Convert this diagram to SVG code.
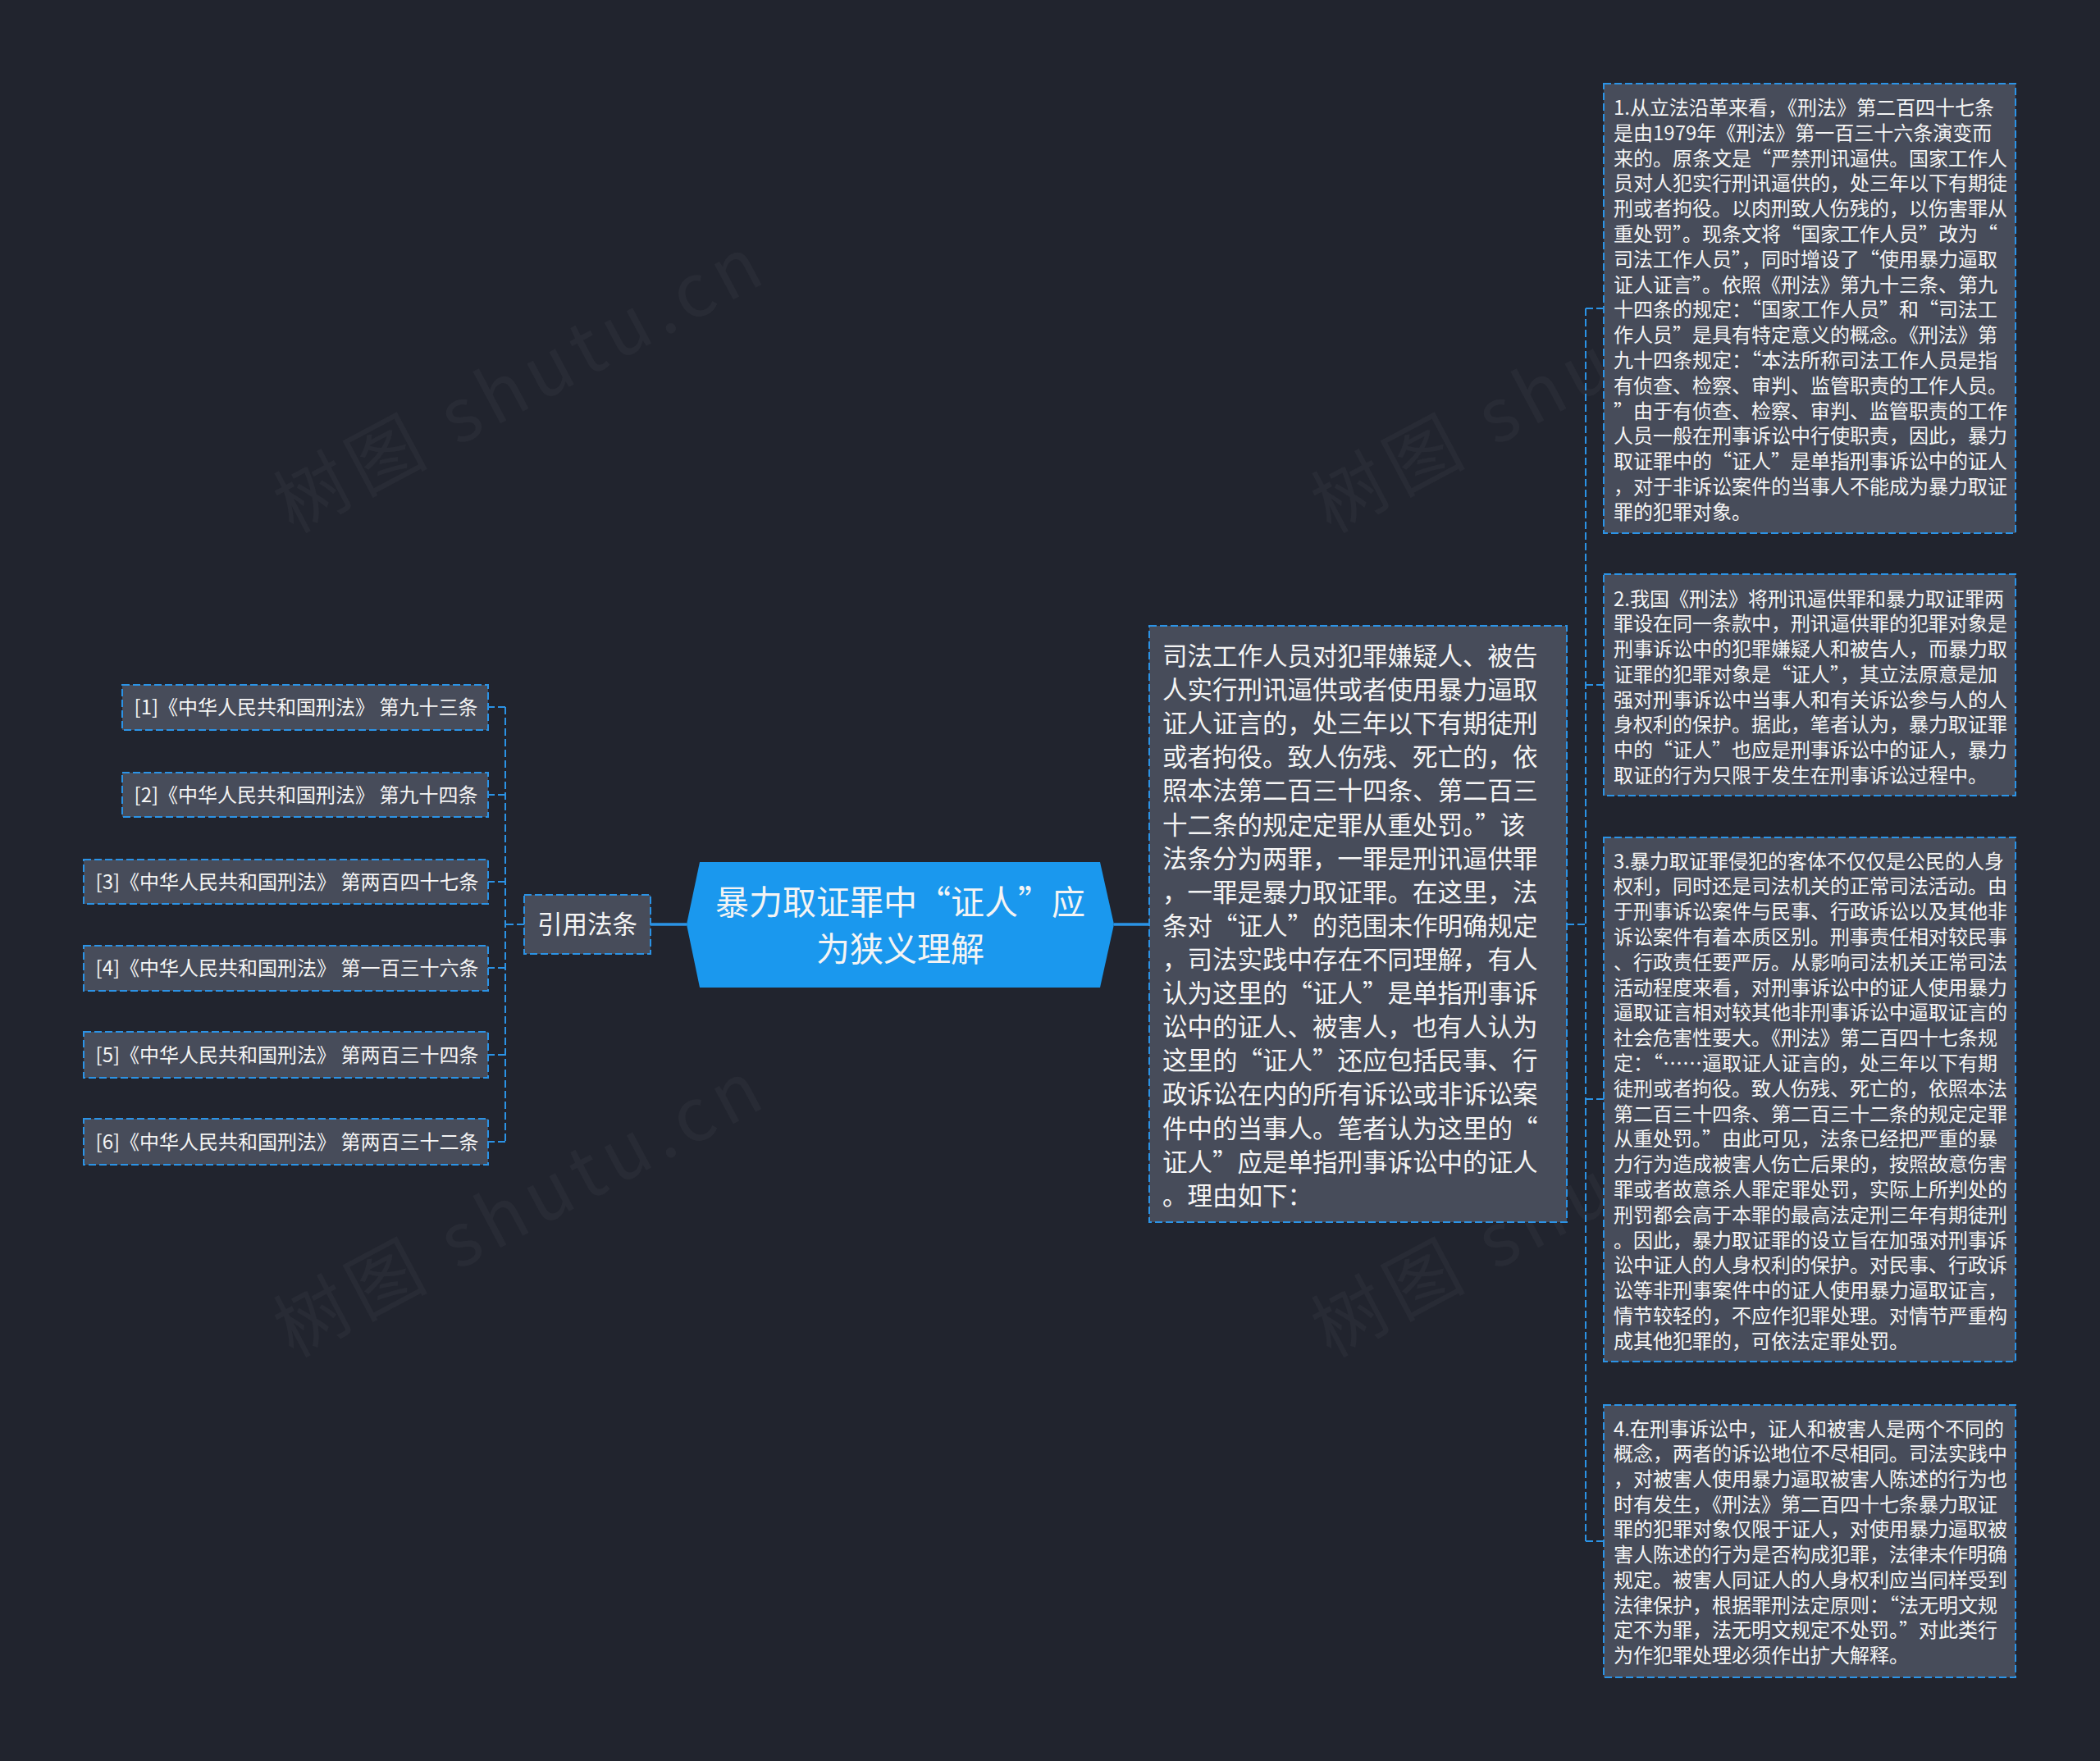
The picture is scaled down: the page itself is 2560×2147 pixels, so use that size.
<svg xmlns="http://www.w3.org/2000/svg" width="2560" height="2147" viewBox="0 0 2560 2147">
<style>
.bg{fill:#21242e}
.box{fill:#474c5a;stroke:#2b93e6;stroke-width:2;stroke-dasharray:9 4}
.main{fill:#1a98ee}
.t{fill:#f4f4f4;font-family:"Noto Sans CJK SC","Noto Sans",sans-serif}
.s24{font-size:24px}
.s30{font-size:30.5px}
.dash{fill:none;stroke:#2b93e6;stroke-width:2;stroke-dasharray:9 4}
.solid{fill:none;stroke:#2b93e6;stroke-width:3.5}
.wm{fill:#ffffff;fill-opacity:0.035;font-family:"Noto Sans CJK SC",sans-serif;font-size:90px;letter-spacing:9px}
</style>
<rect class="bg" x="0" y="0" width="2560" height="2147"/>
<g id="watermarks">
<text class="wm" x="650" y="495" text-anchor="middle" transform="rotate(-28 650 495)">树图 shutu.cn</text>
<text class="wm" x="650" y="1500" text-anchor="middle" transform="rotate(-28 650 1500)">树图 shutu.cn</text>
<text class="wm" x="1915" y="495" text-anchor="middle" transform="rotate(-28 1915 495)">树图 shutu.cn</text>
<text class="wm" x="1915" y="1500" text-anchor="middle" transform="rotate(-28 1915 1500)">树图 shutu.cn</text>
</g>
<g id="connectors">
<path class="solid" d="M837,1127 H793"/>
<path class="dash" d="M639,1127 H616 M616,862 V1392 M616,862 H595 M616,969 H595 M616,1075 H595 M616,1180 H595 M616,1286 H595 M616,1392 H595"/>
<path class="solid" d="M1358,1127 H1401"/>
<path class="dash" d="M1910,1127 H1933 M1933,376 V1879 M1933,376 H1955 M1933,835 H1955 M1933,1340 H1955 M1933,1879 H1955"/>
</g>
<g id="root">
<polygon class="main" points="837,1127 853,1051 1341,1051 1358,1127 1341,1204 853,1204"/>
<text class="t" font-size="41" text-anchor="middle" x="1097.5" y="1115">暴力取证罪中“证人”应</text>
<text class="t" font-size="41" text-anchor="middle" x="1097.5" y="1172">为狭义理解</text>
</g>
<g id="cite">
<rect class="box" x="639" y="1091" width="154" height="72"/>
<text class="t s30" x="716" y="1138" text-anchor="middle" font-size="30">引用法条</text>
</g>
<g id="law1">
<rect class="box" x="149" y="835" width="446" height="55"/>
<text class="t s24" x="373" y="871" text-anchor="middle">[1]《中华人民共和国刑法》 第九十三条</text>
</g>
<g id="law2">
<rect class="box" x="149" y="942" width="446" height="54"/>
<text class="t s24" x="373" y="978" text-anchor="middle">[2]《中华人民共和国刑法》 第九十四条</text>
</g>
<g id="law3">
<rect class="box" x="102" y="1048" width="493" height="54"/>
<text class="t s24" x="350" y="1084" text-anchor="middle">[3]《中华人民共和国刑法》 第两百四十七条</text>
</g>
<g id="law4">
<rect class="box" x="102" y="1153" width="493" height="55"/>
<text class="t s24" x="350" y="1189" text-anchor="middle">[4]《中华人民共和国刑法》 第一百三十六条</text>
</g>
<g id="law5">
<rect class="box" x="102" y="1258" width="493" height="56"/>
<text class="t s24" x="350" y="1295" text-anchor="middle">[5]《中华人民共和国刑法》 第两百三十四条</text>
</g>
<g id="law6">
<rect class="box" x="102" y="1364" width="493" height="56"/>
<text class="t s24" x="350" y="1401" text-anchor="middle">[6]《中华人民共和国刑法》 第两百三十二条</text>
</g>
<g id="summary">
<rect class="box" x="1401" y="763" width="509" height="727"/>
<text class="t s30">
<tspan x="1417" y="811">司法工作人员对犯罪嫌疑人、被告</tspan>
<tspan x="1417" y="852">人实行刑讯逼供或者使用暴力逼取</tspan>
<tspan x="1417" y="893">证人证言的，处三年以下有期徒刑</tspan>
<tspan x="1417" y="934">或者拘役。致人伤残、死亡的，依</tspan>
<tspan x="1417" y="975">照本法第二百三十四条、第二百三</tspan>
<tspan x="1417" y="1017">十二条的规定定罪从重处罚。”该</tspan>
<tspan x="1417" y="1058">法条分为两罪，一罪是刑讯逼供罪</tspan>
<tspan x="1417" y="1099">，一罪是暴力取证罪。在这里，法</tspan>
<tspan x="1417" y="1140">条对“证人”的范围未作明确规定</tspan>
<tspan x="1417" y="1181">，司法实践中存在不同理解，有人</tspan>
<tspan x="1417" y="1222">认为这里的“证人”是单指刑事诉</tspan>
<tspan x="1417" y="1263">讼中的证人、被害人，也有人认为</tspan>
<tspan x="1417" y="1304">这里的“证人”还应包括民事、行</tspan>
<tspan x="1417" y="1345">政诉讼在内的所有诉讼或非诉讼案</tspan>
<tspan x="1417" y="1387">件中的当事人。笔者认为这里的“</tspan>
<tspan x="1417" y="1428">证人”应是单指刑事诉讼中的证人</tspan>
<tspan x="1417" y="1469">。理由如下：</tspan>
</text>
</g>
<g id="reason1">
<rect class="box" x="1955" y="102" width="502" height="548"/>
<text class="t s24">
<tspan x="1967" y="140">1.从立法沿革来看，《刑法》第二百四十七条</tspan>
<tspan x="1967" y="171">是由1979年《刑法》第一百三十六条演变而</tspan>
<tspan x="1967" y="202">来的。原条文是“严禁刑讯逼供。国家工作人</tspan>
<tspan x="1967" y="232">员对人犯实行刑讯逼供的，处三年以下有期徒</tspan>
<tspan x="1967" y="263">刑或者拘役。以肉刑致人伤残的，以伤害罪从</tspan>
<tspan x="1967" y="294">重处罚”。现条文将“国家工作人员”改为“</tspan>
<tspan x="1967" y="325">司法工作人员”，同时增设了“使用暴力逼取</tspan>
<tspan x="1967" y="356">证人证言”。依照《刑法》第九十三条、第九</tspan>
<tspan x="1967" y="386">十四条的规定：“国家工作人员”和“司法工</tspan>
<tspan x="1967" y="417">作人员”是具有特定意义的概念。《刑法》第</tspan>
<tspan x="1967" y="448">九十四条规定：“本法所称司法工作人员是指</tspan>
<tspan x="1967" y="479">有侦查、检察、审判、监管职责的工作人员。</tspan>
<tspan x="1967" y="510">”由于有侦查、检察、审判、监管职责的工作</tspan>
<tspan x="1967" y="540">人员一般在刑事诉讼中行使职责，因此，暴力</tspan>
<tspan x="1967" y="571">取证罪中的“证人”是单指刑事诉讼中的证人</tspan>
<tspan x="1967" y="602">，对于非诉讼案件的当事人不能成为暴力取证</tspan>
<tspan x="1967" y="633">罪的犯罪对象。</tspan>
</text>
</g>
<g id="reason2">
<rect class="box" x="1955" y="700" width="502" height="270"/>
<text class="t s24">
<tspan x="1967" y="739">2.我国《刑法》将刑讯逼供罪和暴力取证罪两</tspan>
<tspan x="1967" y="769">罪设在同一条款中，刑讯逼供罪的犯罪对象是</tspan>
<tspan x="1967" y="800">刑事诉讼中的犯罪嫌疑人和被告人，而暴力取</tspan>
<tspan x="1967" y="831">证罪的犯罪对象是“证人”，其立法原意是加</tspan>
<tspan x="1967" y="862">强对刑事诉讼中当事人和有关诉讼参与人的人</tspan>
<tspan x="1967" y="892">身权利的保护。据此，笔者认为，暴力取证罪</tspan>
<tspan x="1967" y="923">中的“证人”也应是刑事诉讼中的证人，暴力</tspan>
<tspan x="1967" y="954">取证的行为只限于发生在刑事诉讼过程中。</tspan>
</text>
</g>
<g id="reason3">
<rect class="box" x="1955" y="1021" width="502" height="639"/>
<text class="t s24">
<tspan x="1967" y="1059">3.暴力取证罪侵犯的客体不仅仅是公民的人身</tspan>
<tspan x="1967" y="1089">权利，同时还是司法机关的正常司法活动。由</tspan>
<tspan x="1967" y="1120">于刑事诉讼案件与民事、行政诉讼以及其他非</tspan>
<tspan x="1967" y="1151">诉讼案件有着本质区别。刑事责任相对较民事</tspan>
<tspan x="1967" y="1182">、行政责任要严厉。从影响司法机关正常司法</tspan>
<tspan x="1967" y="1213">活动程度来看，对刑事诉讼中的证人使用暴力</tspan>
<tspan x="1967" y="1243">逼取证言相对较其他非刑事诉讼中逼取证言的</tspan>
<tspan x="1967" y="1274">社会危害性要大。《刑法》第二百四十七条规</tspan>
<tspan x="1967" y="1305">定：“……逼取证人证言的，处三年以下有期</tspan>
<tspan x="1967" y="1336">徒刑或者拘役。致人伤残、死亡的，依照本法</tspan>
<tspan x="1967" y="1367">第二百三十四条、第二百三十二条的规定定罪</tspan>
<tspan x="1967" y="1397">从重处罚。”由此可见，法条已经把严重的暴</tspan>
<tspan x="1967" y="1428">力行为造成被害人伤亡后果的，按照故意伤害</tspan>
<tspan x="1967" y="1459">罪或者故意杀人罪定罪处罚，实际上所判处的</tspan>
<tspan x="1967" y="1490">刑罚都会高于本罪的最高法定刑三年有期徒刑</tspan>
<tspan x="1967" y="1521">。因此，暴力取证罪的设立旨在加强对刑事诉</tspan>
<tspan x="1967" y="1551">讼中证人的人身权利的保护。对民事、行政诉</tspan>
<tspan x="1967" y="1582">讼等非刑事案件中的证人使用暴力逼取证言，</tspan>
<tspan x="1967" y="1613">情节较轻的，不应作犯罪处理。对情节严重构</tspan>
<tspan x="1967" y="1644">成其他犯罪的，可依法定罪处罚。</tspan>
</text>
</g>
<g id="reason4">
<rect class="box" x="1955" y="1713" width="502" height="332"/>
<text class="t s24">
<tspan x="1967" y="1751">4.在刑事诉讼中，证人和被害人是两个不同的</tspan>
<tspan x="1967" y="1781">概念，两者的诉讼地位不尽相同。司法实践中</tspan>
<tspan x="1967" y="1812">，对被害人使用暴力逼取被害人陈述的行为也</tspan>
<tspan x="1967" y="1843">时有发生，《刑法》第二百四十七条暴力取证</tspan>
<tspan x="1967" y="1873">罪的犯罪对象仅限于证人，对使用暴力逼取被</tspan>
<tspan x="1967" y="1904">害人陈述的行为是否构成犯罪，法律未作明确</tspan>
<tspan x="1967" y="1935">规定。被害人同证人的人身权利应当同样受到</tspan>
<tspan x="1967" y="1966">法律保护，根据罪刑法定原则：“法无明文规</tspan>
<tspan x="1967" y="1996">定不为罪，法无明文规定不处罚。”对此类行</tspan>
<tspan x="1967" y="2027">为作犯罪处理必须作出扩大解释。</tspan>
</text>
</g>
</svg>
